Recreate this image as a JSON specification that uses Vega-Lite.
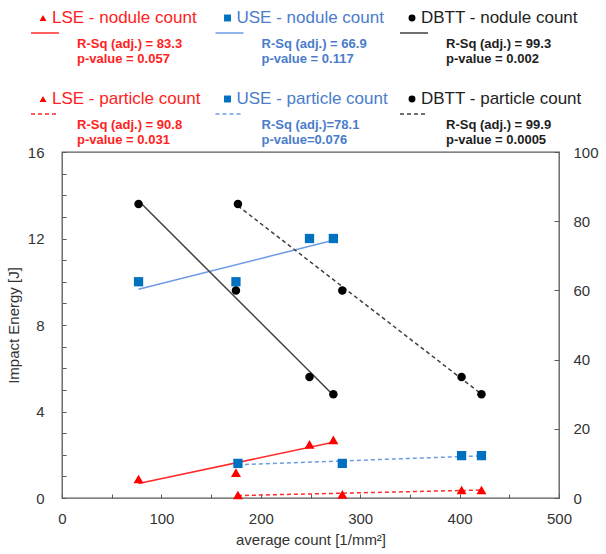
{
  "$schema": "https://vega.github.io/schema/vega-lite/v6.json",
  "padding": {"left": 5, "top": 5, "right": 5, "bottom": 5},
  "bounds": "flush",
  "spacing": 7,
  "config": {
    "font": "Liberation Sans",
    "view": {"stroke": null},
    "axis": {"grid": false, "domain": false, "labelFont": "Liberation Sans", "titleFont": "Liberation Sans", "labelColor": "#333333", "titleColor": "#333333", "tickColor": "#595959", "titleFontWeight": "normal", "labelOverlap": false, "labelFlush": false}
  },
  "datasets": {
    "pts": [
      {"series": "LSE", "count": "nodule", "x": 77, "value": 0.88},
      {"series": "LSE", "count": "nodule", "x": 175, "value": 1.17},
      {"series": "LSE", "count": "nodule", "x": 249, "value": 2.48},
      {"series": "LSE", "count": "nodule", "x": 273, "value": 2.69},
      {"series": "USE", "count": "nodule", "x": 77, "value": 10.0},
      {"series": "USE", "count": "nodule", "x": 175, "value": 10.0},
      {"series": "USE", "count": "nodule", "x": 249, "value": 12.0},
      {"series": "USE", "count": "nodule", "x": 273, "value": 12.0},
      {"series": "DBTT", "count": "nodule", "x": 77, "value": 85},
      {"series": "DBTT", "count": "nodule", "x": 175, "value": 60},
      {"series": "DBTT", "count": "nodule", "x": 249, "value": 35},
      {"series": "DBTT", "count": "nodule", "x": 273, "value": 30},
      {"series": "LSE", "count": "particle", "x": 177, "value": 0.14},
      {"series": "LSE", "count": "particle", "x": 282, "value": 0.17},
      {"series": "LSE", "count": "particle", "x": 402, "value": 0.37},
      {"series": "LSE", "count": "particle", "x": 422, "value": 0.37},
      {"series": "USE", "count": "particle", "x": 177, "value": 1.6},
      {"series": "USE", "count": "particle", "x": 282, "value": 1.6},
      {"series": "USE", "count": "particle", "x": 402, "value": 1.96},
      {"series": "USE", "count": "particle", "x": 422, "value": 1.96},
      {"series": "DBTT", "count": "particle", "x": 177, "value": 85},
      {"series": "DBTT", "count": "particle", "x": 282, "value": 60},
      {"series": "DBTT", "count": "particle", "x": 402, "value": 35},
      {"series": "DBTT", "count": "particle", "x": 422, "value": 30}
    ],
    "leg": [
      {"series": "LSE", "count": "nodule", "title": "LSE - nodule count", "rsq": "R-Sq (adj.) = 83.3", "pval": "p-value = 0.057"},
      {"series": "USE", "count": "nodule", "title": "USE - nodule count", "rsq": "R-Sq (adj.) = 66.9", "pval": "p-value = 0.117"},
      {"series": "DBTT", "count": "nodule", "title": "DBTT - nodule count", "rsq": "R-Sq (adj.) = 99.3", "pval": "p-value = 0.002"},
      {"series": "LSE", "count": "particle", "title": "LSE - particle count", "rsq": "R-Sq (adj.) = 90.8", "pval": "p-value = 0.031"},
      {"series": "USE", "count": "particle", "title": "USE - particle count", "rsq": "R-Sq (adj.)=78.1", "pval": "p-value=0.076"},
      {"series": "DBTT", "count": "particle", "title": "DBTT - particle count", "rsq": "R-Sq (adj.) = 99.9", "pval": "p-value = 0.0005"}
    ]
  },
  "vconcat": [
    {
      "width": 497,
      "height": 140,
      "view": {"stroke": null},
      "data": {"name": "leg"},
      "encoding": {
        "x": {"field": "series", "type": "nominal", "scale": {"type": "point", "domain": ["LSE", "USE", "DBTT"], "range": [-19, 350], "padding": 0}, "axis": null},
        "y": {"field": "count", "type": "nominal", "scale": {"type": "point", "domain": ["nodule", "particle"], "range": [13, 94], "padding": 0}, "axis": null}
      },
      "layer": [
        {
          "transform": [{"filter": "datum.count === 'nodule'"}],
          "mark": {"type": "rule", "xOffset": -12, "x2Offset": 16, "yOffset": 15, "strokeWidth": 1.5},
          "encoding": {
            "x2": {"field": "series"},
            "stroke": {"field": "series", "type": "nominal", "scale": {"domain": ["LSE", "USE", "DBTT"], "range": ["#FF2A2A", "#6C9BE3", "#404040"]}, "legend": null}
          }
        },
        {
          "transform": [{"filter": "datum.count === 'particle'"}],
          "mark": {"type": "rule", "xOffset": -12, "x2Offset": 16, "yOffset": 15, "strokeWidth": 1.5, "strokeDash": [4, 3]},
          "encoding": {
            "x2": {"field": "series"},
            "stroke": {"field": "series", "type": "nominal", "legend": null}
          }
        },
        {
          "mark": {"type": "point", "filled": true, "size": 48, "opacity": 1, "strokeWidth": 0},
          "encoding": {
            "shape": {"field": "series", "type": "nominal", "scale": {"domain": ["LSE", "USE", "DBTT"], "range": ["triangle-up", "square", "circle"]}, "legend": null},
            "fill": {"field": "series", "type": "nominal", "scale": {"domain": ["LSE", "USE", "DBTT"], "range": ["#FF0000", "#0070C0", "#000000"]}, "legend": null}
          }
        },
        {
          "mark": {"type": "text", "align": "left", "baseline": "middle", "dx": 9, "fontSize": 17},
          "encoding": {
            "text": {"field": "title"},
            "color": {"field": "series", "type": "nominal", "scale": {"domain": ["LSE", "USE", "DBTT"], "range": ["#FF2222", "#4A7CCB", "#1E1E1E"]}, "legend": null}
          }
        },
        {
          "mark": {"type": "text", "align": "left", "baseline": "middle", "dx": 34, "dy": 26, "fontSize": 13, "fontWeight": "bold"},
          "encoding": {
            "text": {"field": "rsq"},
            "color": {"field": "series", "type": "nominal", "legend": null}
          }
        },
        {
          "mark": {"type": "text", "align": "left", "baseline": "middle", "dx": 34, "dy": 41, "fontSize": 13, "fontWeight": "bold"},
          "encoding": {
            "text": {"field": "pval"},
            "color": {"field": "series", "type": "nominal", "legend": null}
          }
        }
      ]
    },
    {
      "width": 497,
      "height": 346,
      "view": {"stroke": "#595959", "strokeWidth": 1.3},
      "data": {"name": "pts"},
      "resolve": {"scale": {"y": "independent"}, "axis": {"y": "independent"}},
      "layer": [
        {
          "transform": [{"filter": "datum.series !== 'DBTT'"}],
          "encoding": {
            "x": {"field": "x", "type": "quantitative", "scale": {"domain": [0, 500], "nice": false},
              "axis": {"title": "average count [1/mm²]", "values": [0, 25, 50, 75, 100, 125, 150, 175, 200, 225, 250, 275, 300, 325, 350, 375, 400, 425, 450, 475, 500], "labelExpr": "datum.value % 100 === 0 ? datum.label : ''", "tickSize": -4, "labelPadding": 17, "labelFontSize": 15, "titleFontSize": 15, "titlePadding": 6}},
            "y": {"field": "value", "type": "quantitative", "scale": {"domain": [0, 16], "nice": false},
              "axis": {"title": "Impact Energy [J]", "values": [0, 1, 2, 3, 4, 5, 6, 7, 8, 9, 10, 11, 12, 13, 14, 15, 16], "labelExpr": "datum.value % 4 === 0 ? datum.label : ''", "tickSize": -4, "labelPadding": 22, "labelFontSize": 15, "titleFontSize": 15, "titlePadding": 6}}
          },
          "layer": [
            {
              "transform": [{"filter": "datum.count === 'nodule'"}, {"regression": "value", "on": "x", "groupby": ["series"]}],
              "mark": {"type": "line", "strokeWidth": 1.5},
              "encoding": {
                "stroke": {"field": "series", "type": "nominal", "legend": null}
              }
            },
            {
              "transform": [{"filter": "datum.count === 'particle'"}, {"regression": "value", "on": "x", "groupby": ["series"]}],
              "mark": {"type": "line", "strokeWidth": 1.5, "strokeDash": [4, 3]},
              "encoding": {
                "stroke": {"field": "series", "type": "nominal", "legend": null}
              }
            },
            {
              "mark": {"type": "point", "filled": true, "opacity": 1, "strokeWidth": 0},
              "encoding": {
                "shape": {"field": "series", "type": "nominal", "legend": null},
                "fill": {"field": "series", "type": "nominal", "legend": null},
                "size": {"field": "series", "type": "nominal", "scale": {"domain": ["LSE", "USE", "DBTT"], "range": [100, 72, 90]}, "legend": null}
              }
            }
          ]
        },
        {
          "transform": [{"filter": "datum.series === 'DBTT'"}],
          "encoding": {
            "x": {"field": "x", "type": "quantitative"},
            "y": {"field": "value", "type": "quantitative", "scale": {"domain": [0, 100], "nice": false},
              "axis": {"orient": "right", "title": null, "values": [0, 20, 40, 60, 80, 100], "tickSize": -5, "labelPadding": 19, "labelFontSize": 15}}
          },
          "layer": [
            {
              "transform": [{"filter": "datum.count === 'nodule'"}, {"regression": "value", "on": "x", "groupby": ["series"]}],
              "mark": {"type": "line", "strokeWidth": 1.5},
              "encoding": {
                "stroke": {"field": "series", "type": "nominal", "legend": null}
              }
            },
            {
              "transform": [{"filter": "datum.count === 'particle'"}, {"regression": "value", "on": "x", "groupby": ["series"]}],
              "mark": {"type": "line", "strokeWidth": 1.5, "strokeDash": [4, 3]},
              "encoding": {
                "stroke": {"field": "series", "type": "nominal", "legend": null}
              }
            },
            {
              "mark": {"type": "point", "filled": true, "opacity": 1, "strokeWidth": 0},
              "encoding": {
                "shape": {"field": "series", "type": "nominal", "legend": null},
                "fill": {"field": "series", "type": "nominal", "legend": null},
                "size": {"field": "series", "type": "nominal", "legend": null}
              }
            }
          ]
        }
      ]
    }
  ]
}
